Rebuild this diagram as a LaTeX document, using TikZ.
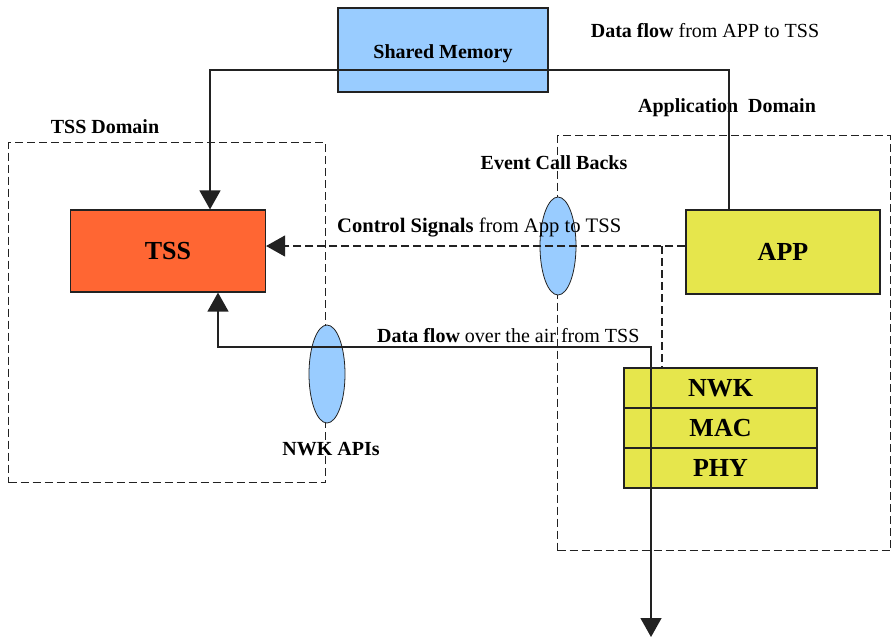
\documentclass[tikz,border=0pt]{standalone}
\usepackage{fontspec}
\setmainfont{Liberation Serif}
\usetikzlibrary{arrows.meta,shapes.geometric}
\definecolor{memblue}{HTML}{99CCFF}
\definecolor{tssred}{HTML}{FF6633}
\definecolor{appyel}{HTML}{E6E64C}
\definecolor{linegray}{HTML}{222222}

\begin{document}
\begin{tikzpicture}[x=1pt,y=-1pt,
  box/.style={draw=linegray, line width=1.2pt, inner sep=0pt,
    font=\fontsize{26}{29}\selectfont\bfseries},
  zonebox/.style={draw=linegray, line width=1.1pt, dash pattern=on 8pt off 4pt,
    inner sep=0pt, anchor=north west},
  api/.style={ellipse, draw=linegray, line width=0.8pt, fill=memblue,
    minimum width=36pt, minimum height=98pt, inner sep=0pt},
  lbl/.style={font=\fontsize{20}{23}\selectfont, inner sep=0pt},
  flow/.style={draw=linegray, line width=1.3pt},
  ctrl/.style={draw=linegray, line width=1.3pt, dash pattern=on 8pt off 4pt},
  tipend/.style={-{Triangle[length=19pt,width=21pt]}},
]
\useasboundingbox (0,0) rectangle (891,638);

% domains
\node[zonebox, minimum width=317pt, minimum height=340pt] (tssdom) at (8,142) {};
\node[zonebox, minimum width=333pt, minimum height=415pt] (appdom) at (557,135) {};

% interface ellipses
\node[api] (events) at (558,246) {};
\node[api] (nwkapi) at (327,374) {};

% blocks
\node[box, fill=memblue, minimum width=210pt, minimum height=84pt,
  font=\fontsize{20}{23}\selectfont\bfseries, text height=21.5pt, text depth=4.3pt]
  (sm) at (443,50) {Shared Memory};
\node[box, fill=tssred, minimum width=195pt, minimum height=82pt] (tss) at (168,251) {TSS};
\node[box, fill=appyel, minimum width=194pt, minimum height=84pt] (app) at (783,252) {APP};
\node[box, fill=appyel, minimum width=193pt, minimum height=40pt] (nwk) at (720.5,388) {NWK};
\node[box, fill=appyel, minimum width=193pt, minimum height=40pt] (mac) at (720.5,428) {MAC};
\node[box, fill=appyel, minimum width=193pt, minimum height=40pt] (phy) at (720.5,468) {PHY};

% labels
\node[lbl] (tsslbl) at (105,127) {\bfseries TSS Domain};
\node[lbl] (applbl) at (727,108) {\bfseries Application\ \ Domain};
\node[lbl] (datalbl) at (705,31) {\textbf{Data flow} from APP to TSS};
\node[lbl] (evlbl) at (554,163) {\bfseries Event Call Backs};
\node[lbl, anchor=west, font=\fontsize{20.6}{23}\selectfont] (ctrllbl) at (337,228)
  {\textbf{Control Signals} from App to TSS};
\node[lbl, anchor=west] (airlbl) at (377,336) {\textbf{Data flow} over the air from TSS};
\node[lbl] (apilbl) at (331,449) {\bfseries NWK APIs};

% routing points
\coordinate (memL) at (210,70);
\coordinate (memR) at (729,70);
\coordinate (ctl) at (662,246);
\coordinate (airL) at (218,347);
\coordinate (airR) at (651,347);
\coordinate (airEnd) at (651,637);

% shared memory path: APP -> TSS
\draw[flow, tipend]
  (app.north -| memR) -- (memR) -- (memL) -- (tss.north -| memL);

% control signals: APP -> TSS, with a branch down to the stack
\draw[ctrl, tipend] (app.west |- ctl) -- (tss.east |- ctl);
\draw[ctrl] (ctl) -- (nwk.north -| ctl);

% over-the-air data path
\draw[flow, {Triangle[length=19pt,width=21pt]}-{Triangle[length=19pt,width=21pt]}]
  (tss.south -| airL) -- (airL) -- (airR) -- (airEnd);
\end{tikzpicture}
\end{document}
